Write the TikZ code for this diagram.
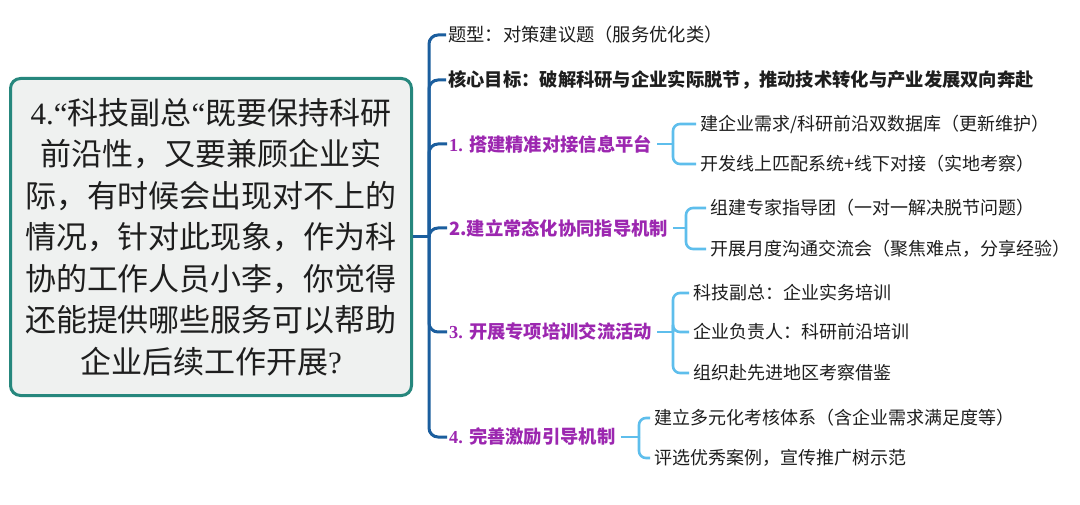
\documentclass[tikz,border=0pt]{standalone}
\usepackage{fontspec}
\setmainfont{Liberation Serif}
\newfontfamily\cjk{Noto Sans CJK SC}
\definecolor{trunkblue}{RGB}{27,94,158}
\definecolor{subblue}{RGB}{94,190,236}
\definecolor{tealb}{RGB}{38,135,125}
\definecolor{rootfill}{RGB}{239,241,240}
\definecolor{lblpurple}{RGB}{156,39,176}
\definecolor{txt}{RGB}{30,30,30}
\begin{document}
\begin{tikzpicture}[x=1pt,y=-1pt,
  trunkline/.style={draw=trunkblue,line width=3pt,rounded corners=9pt},
  subline/.style={draw=subblue,line width=2.6pt,rounded corners=7pt},
  rootbox/.style={draw=tealb,line width=3pt,fill=rootfill,rounded corners=10pt,
    minimum width=401pt,minimum height=317pt,align=center,inner sep=0pt,
    font=\cjk\fontsize{31}{41.5}\selectfont,text=txt},
  plain/.style={anchor=west,inner sep=0pt,font=\cjk\fontsize{18.3}{22}\selectfont,text=txt},
  core/.style={plain,font=\cjk\bfseries\fontsize{18.3}{22}\selectfont},
  lbl/.style={plain,font=\cjk\bfseries\fontsize{18.3}{22}\selectfont,text=lblpurple},
  leaf/.style={plain,font=\cjk\fontsize{18}{22}\selectfont}]
\useasboundingbox[fill=white] (0,0) rectangle (1080,505);

% root
\node[rootbox] (root) at (211,237) {{\rmfamily 4.“}科技副总{\rmfamily “}既要保持科研\\前沿性，又要兼顾企业实\\际，有时候会出现对不上的\\情况，针对此现象，作为科\\协的工作人员小李，你觉得\\还能提供哪些服务可以帮助\\企业后续工作开展{\rmfamily ?}};

% level 1
\node[plain] (t0) at (448,35) {题型：对策建议题（服务优化类）};
\node[core] (t1) at (448,80) {核心目标：破解科研与企业实际脱节，推动技术转化与产业发展双向奔赴};
\node[lbl] (b1) at (449,144) {{\rmfamily\bfseries 1. }搭建精准对接信息平台};
\node[lbl] (b2) at (449,228) {2.建立常态化协同指导机制};
\node[lbl] (b3) at (449,332) {{\rmfamily\bfseries 3. }开展专项培训交流活动};
\node[lbl] (b4) at (449,437) {{\rmfamily\bfseries 4. }完善激励引导机制};

% level 2
\node[leaf] (c11) at (700,124) {建企业需求/科研前沿双数据库（更新维护）};
\node[leaf] (c12) at (700,164) {开发线上匹配系统+线下对接（实地考察）};
\node[leaf] (c21) at (710,208) {组建专家指导团（一对一解决脱节问题）};
\node[leaf] (c22) at (710,249) {开展月度沟通交流会（聚焦难点，分享经验）};
\node[leaf] (c31) at (693,293) {科技副总：企业实务培训};
\node[leaf] (c32) at (693,332) {企业负责人：科研前沿培训};
\node[leaf] (c33) at (693,373) {组织赴先进地区考察借鉴};
\node[leaf] (c41) at (654,418) {建立多元化考核体系（含企业需求满足度等）};
\node[leaf] (c42) at (654,458) {评选优秀案例，宣传推广树示范};

% trunk
\coordinate (tj) at (429,237);
\draw[trunkline] (root.east) -- (tj);
\foreach \n in {t0,t1,b1,b2,b3,b4}
  \draw[trunkline] (tj) |- ([xshift=-2pt]\n.west);

% sub brackets
\coordinate (j1) at (673,0 |- b1.east);
\coordinate (j2) at (686,0 |- b2.east);
\coordinate (j3) at (673,0 |- b3.east);
\coordinate (j4) at (639,0 |- b4.east);
\draw[subline] ([xshift=5pt]b1.east) -- (j1);
\draw[subline] ([xshift=5pt]b2.east) -- (j2);
\draw[subline] ([xshift=5pt]b3.east) -- (j3);
\draw[subline] ([xshift=5pt]b4.east) -- (j4);
\foreach \c in {c11,c12} \draw[subline] (j1) |- ([xshift=-4pt]\c.west);
\foreach \c in {c21,c22} \draw[subline] (j2) |- ([xshift=-4pt]\c.west);
\foreach \c in {c31,c32,c33} \draw[subline] (j3) |- ([xshift=-4pt]\c.west);
\foreach \c in {c41,c42} \draw[subline] (j4) |- ([xshift=-4pt]\c.west);
\end{tikzpicture}
\end{document}
